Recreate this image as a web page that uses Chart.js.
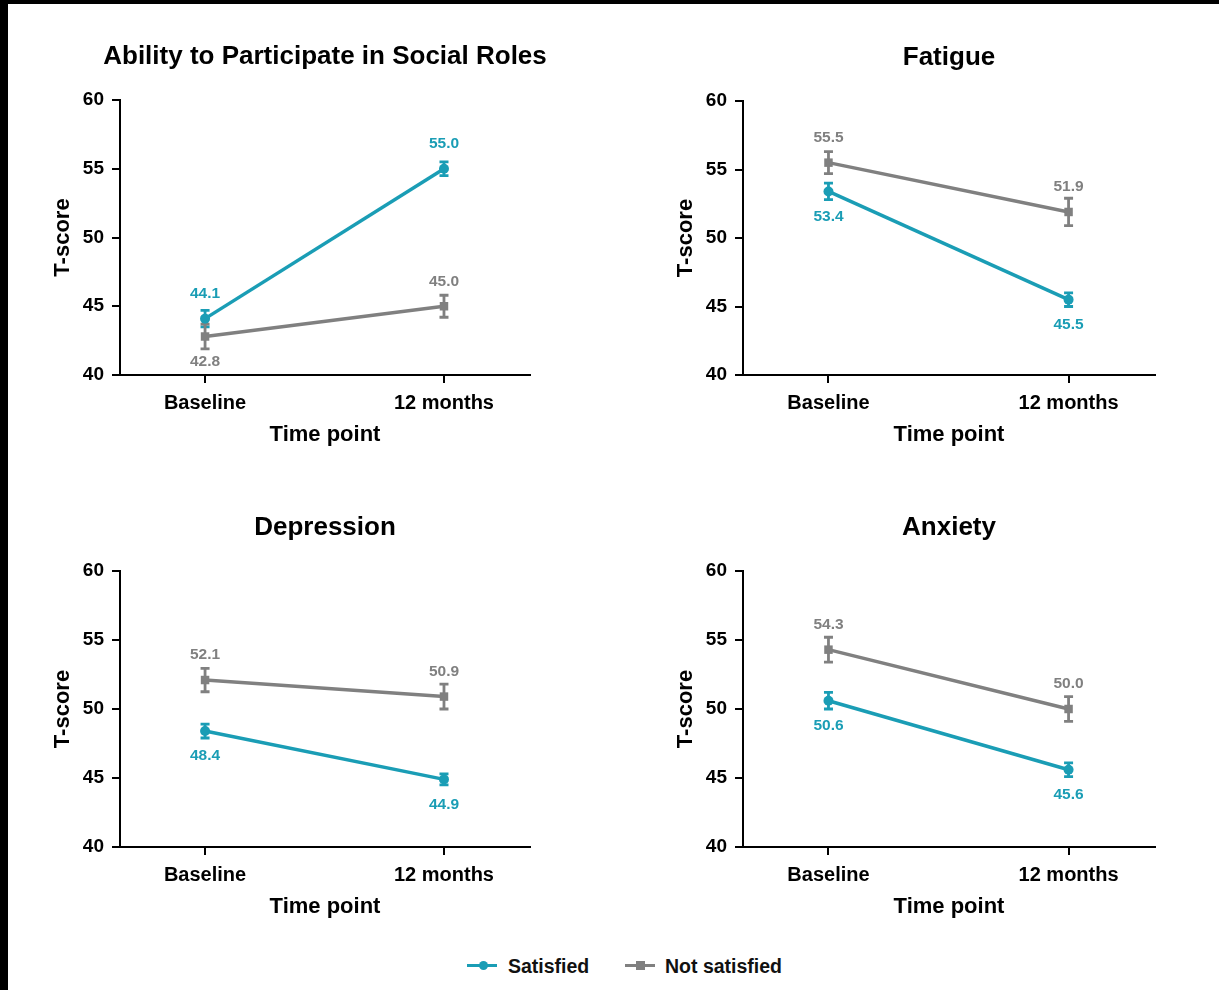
<!DOCTYPE html>
<html>
<head>
<meta charset="utf-8">
<script src="https://cdn.jsdelivr.net/npm/chart.js@4.4.1/dist/chart.umd.min.js"></script>
<style>
  html, body { margin:0; padding:0; background:#fff; }
  body { width:1219px; height:990px; position:relative; overflow:hidden; font-family:"Liberation Sans", Arial, sans-serif; }
  .frameTop { position:absolute; left:0; top:0; width:1219px; height:4px; background:#000; }
  .frameLeft { position:absolute; left:0; top:0; width:8px; height:990px; background:#000; }
  canvas { position:absolute; }
  #legend { position:absolute; left:0; top:952px; width:1219px; height:28px; }
  .lg { position:absolute; top:0; font-weight:bold; font-size:19.5px; color:#111; line-height:28px; }
  .sw { position:absolute; top:12px; width:30px; height:3px; }
  .mk { position:absolute; }
</style>
</head>
<body>
<div class="frameTop"></div>
<div class="frameLeft"></div>
<canvas id="c0" width="610" height="470" style="left:0;top:0;"></canvas>
<canvas id="c1" width="609" height="470" style="left:610px;top:0;"></canvas>
<canvas id="c2" width="610" height="470" style="left:0;top:470px;"></canvas>
<canvas id="c3" width="609" height="470" style="left:610px;top:470px;"></canvas>
<div id="legend">
  <div class="sw" style="left:467px;background:#1a9db5;"></div>
  <div class="mk" style="left:479px;top:9px;width:9px;height:9px;border-radius:50%;background:#1a9db5;"></div>
  <div class="lg" style="left:508px;">Satisfied</div>
  <div class="sw" style="left:625px;background:#808080;"></div>
  <div class="mk" style="left:636px;top:9px;width:9px;height:9px;background:#808080;"></div>
  <div class="lg" style="left:665px;">Not satisfied</div>
</div>
<script>
// ---- DATA ----
const categories = ['Baseline', '12 months'];
const panelTitles = ['Ability to Participate in Social Roles', 'Fatigue', 'Depression', 'Anxiety'];
const seriesNames = ['Satisfied', 'Not satisfied'];
const yTicks = [40, 45, 50, 55, 60];
const xAxisTitle = 'Time point';
const yAxisTitle = 'T-score';

const satisfiedMean = [[44.1, 55.0], [53.4, 45.5], [48.4, 44.9], [50.6, 45.6]];
const satisfiedErr  = [[0.6, 0.5], [0.6, 0.5], [0.5, 0.4], [0.6, 0.5]];
const notSatMean    = [[42.8, 45.0], [55.5, 51.9], [52.1, 50.9], [54.3, 50.0]];
const notSatErr     = [[0.9, 0.8], [0.8, 1.0], [0.85, 0.9], [0.9, 0.9]];
// label placement per panel: [satisfied, notSatisfied] for each time point
const satLabelPos = [['above','above'], ['below','below'], ['below','below'], ['below','below']];
const nsLabelPos  = [['below','above'], ['above','above'], ['above','above'], ['above','above']];

// ---- STYLE ----
const TEAL = '#1a9db5';
const GRAY = '#808080';
const FONT = '"Liberation Sans", Arial, sans-serif';

const layouts = [
  { padL: 0, yW: 120, padR: 80, padT: 100, xH: 95 },
  { padL: 0, yW: 133, padR: 64, padT: 101, xH: 95 },
  { padL: 0, yW: 120, padR: 80, padT: 101, xH: 93 },
  { padL: 0, yW: 133, padR: 64, padT: 101, xH: 93 }
];

const extrasPlugin = {
  id: 'extras',
  beforeDatasetsDraw(chart, args, opts) {
    const ctx = chart.ctx;
    const y = chart.scales.y;
    chart.data.datasets.forEach((ds, di) => {
      const meta = chart.getDatasetMeta(di);
      ctx.save();
      ctx.strokeStyle = ds.borderColor;
      ctx.lineWidth = 2.8;
      meta.data.forEach((pt, i) => {
        const v = ds.data[i].y, e = ds.errors[i];
        const y1 = y.getPixelForValue(v + e), y2 = y.getPixelForValue(v - e);
        ctx.beginPath();
        ctx.moveTo(pt.x, y1); ctx.lineTo(pt.x, y2);
        ctx.moveTo(pt.x - 4.5, y1); ctx.lineTo(pt.x + 4.5, y1);
        ctx.moveTo(pt.x - 4.5, y2); ctx.lineTo(pt.x + 4.5, y2);
        ctx.stroke();
      });
      ctx.restore();
    });
  },
  afterDatasetsDraw(chart, args, opts) {
    const ctx = chart.ctx;
    ctx.save();
    chart.data.datasets.forEach((ds, di) => {
      const meta = chart.getDatasetMeta(di);
      ctx.fillStyle = ds.borderColor;
      ctx.font = 'bold 15.5px ' + FONT;
      ctx.textAlign = 'center';
      ctx.textBaseline = 'middle';
      meta.data.forEach((pt, i) => {
        const off = ds.labelPos[i] === 'above' ? -25 : 25;
        ctx.fillText(ds.data[i].y.toFixed(1), pt.x, pt.y + off);
      });
    });
    const ca = chart.chartArea;
    ctx.fillStyle = '#000';
    ctx.textAlign = 'center';
    ctx.textBaseline = 'middle';
    ctx.font = 'bold 26px ' + FONT;
    ctx.fillText(opts.title, (ca.left + ca.right) / 2, ca.top - 43);
    ctx.font = 'bold 22px ' + FONT;
    ctx.fillText(xAxisTitle, (ca.left + ca.right) / 2, ca.bottom + 60);
    ctx.save();
    ctx.translate(ca.left - 57, (ca.top + ca.bottom) / 2);
    ctx.rotate(-Math.PI / 2);
    ctx.fillText(yAxisTitle, 0, 0);
    ctx.restore();
    ctx.restore();
  }
};

function makeChart(k) {
  const L = layouts[k];
  const mk = (arr) => arr.map((v, i) => ({ x: i, y: v }));
  new Chart(document.getElementById('c' + k), {
    type: 'line',
    data: {
      datasets: [
        { label: seriesNames[0], data: mk(satisfiedMean[k]), errors: satisfiedErr[k], labelPos: satLabelPos[k],
          borderColor: TEAL, backgroundColor: TEAL, borderWidth: 3.5, pointStyle: 'circle', pointRadius: 5, pointBorderWidth: 0 },
        { label: seriesNames[1], data: mk(notSatMean[k]), errors: notSatErr[k], labelPos: nsLabelPos[k],
          borderColor: GRAY, backgroundColor: GRAY, borderWidth: 3.5, pointStyle: 'rect', pointRadius: 6, pointBorderWidth: 0 }
      ]
    },
    options: {
      responsive: false, animation: false, clip: false,
      layout: { padding: { left: L.padL, right: L.padR, top: L.padT, bottom: 0 } },
      plugins: { legend: { display: false }, tooltip: { enabled: false }, extras: { title: panelTitles[k] } },
      scales: {
        x: {
          type: 'linear', min: -0.356, max: 1.36,
          afterBuildTicks: (s) => { s.ticks = categories.map((c, i) => ({ value: i })); },
          afterFit: (s) => { s.height = L.xH; },
          ticks: { callback: (v) => categories[v], color: '#000', font: { family: FONT, size: 20, weight: 'bold' }, padding: 8, maxRotation: 0, autoSkip: false },
          grid: { drawOnChartArea: false, drawTicks: true, tickLength: 8, color: '#000', lineWidth: 2 },
          border: { display: true, color: '#000', width: 2 }
        },
        y: {
          min: 40, max: 60,
          afterBuildTicks: (s) => { s.ticks = yTicks.map(v => ({ value: v })); },
          afterFit: (s) => { s.width = L.yW; },
          ticks: { color: '#000', font: { family: FONT, size: 19, weight: 'bold' }, padding: 8 },
          grid: { drawOnChartArea: false, drawTicks: true, tickLength: 8, color: '#000', lineWidth: 2 },
          border: { display: true, color: '#000', width: 2 }
        }
      }
    },
    plugins: [extrasPlugin]
  });
}
[0, 1, 2, 3].forEach(makeChart);
</script>
</body>
</html>
